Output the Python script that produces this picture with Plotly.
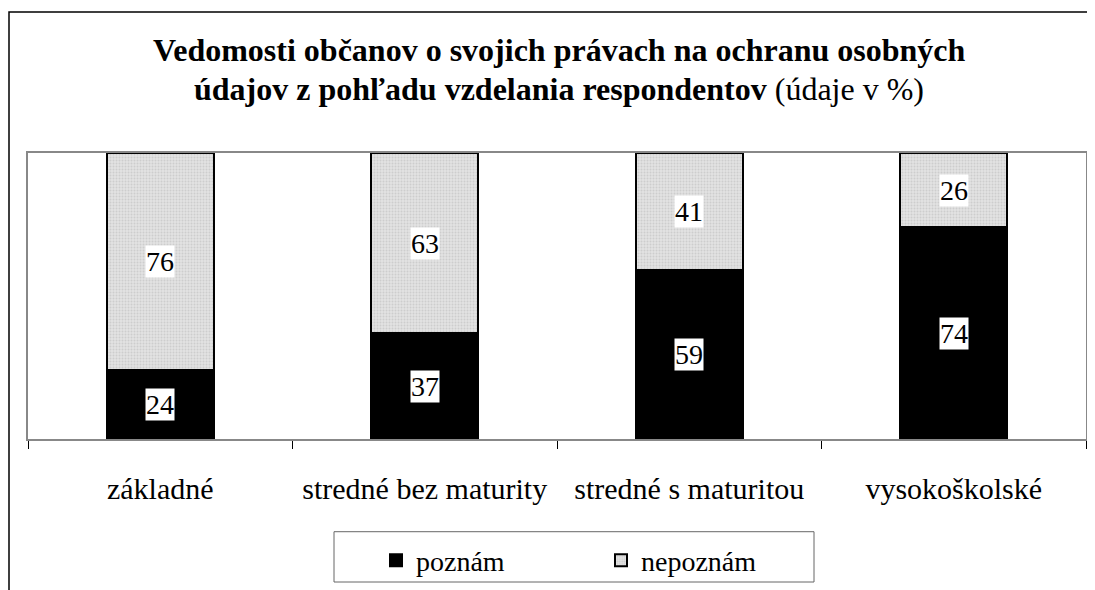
import plotly.graph_objects as go

categories = ["základné", "stredné bez maturity", "stredné s maturitou", "vysokoškolské"]
poznam = [24, 37, 59, 74]
nepoznam = [76, 63, 41, 26]
series_names = ["poznám", "nepoznám"]
title_line1 = "<b>Vedomosti občanov o svojich právach na ochranu osobných</b>"
title_line2 = "<b>údajov z pohľadu vzdelania respondentov</b> (údaje v %)"

FONT = "Liberation Serif, Times New Roman, serif"

fig = go.Figure()
fig.add_trace(go.Bar(
    x=categories, y=poznam, name=series_names[0], width=0.405,
    marker=dict(color="black", line=dict(color="black", width=2)),
))
fig.add_trace(go.Bar(
    x=categories, y=nepoznam, name=series_names[1], width=0.405,
    marker=dict(color="#d9d9d9", line=dict(color="black", width=2),
                pattern=dict(shape=".", fgcolor="#b8b8b8", bgcolor="#e2e2e2", size=3, solidity=0.35)),
))

# value labels with white boxes
for cat, a, b in zip(categories, poznam, nepoznam):
    fig.add_annotation(x=cat, y=a / 2, text=str(a), showarrow=False, bgcolor="white",
                       font=dict(family=FONT, size=28, color="black"), borderpad=0)
    fig.add_annotation(x=cat, y=a + b / 2, text=str(b), showarrow=False, bgcolor="white",
                       font=dict(family=FONT, size=28, color="black"), borderpad=0)

# title (two lines)
fig.add_annotation(xref="paper", yref="paper", x=0.502, y=1.359, yanchor="middle", showarrow=False,
                   text=title_line1, font=dict(family=FONT, size=32, color="black"))
fig.add_annotation(xref="paper", yref="paper", x=0.502, y=1.224, yanchor="middle", showarrow=False,
                   text=title_line2, font=dict(family=FONT, size=32, color="black"))

# outer chart border
fig.add_shape(type="rect", xref="paper", yref="paper",
              x0=(1 - 20) / 1058, y0=-1.0, x1=1.2, y1=(435 - 2) / 290,
              line=dict(color="black", width=1.5), layer="below")
# legend box
fig.add_shape(type="rect", xref="paper", yref="paper",
              x0=(326 - 20) / 1058, x1=(806 - 20) / 1058,
              y0=(435 - 580) / 290, y1=(435 - 529) / 290,
              line=dict(color="#666666", width=1), fillcolor="rgba(0,0,0,0)")

fig.update_layout(
    width=1095, height=590,
    margin=dict(l=20, r=17, t=145, b=155),
    barmode="stack", bargap=0,
    plot_bgcolor="white", paper_bgcolor="white",
    font=dict(family=FONT, size=30, color="black"),
    showlegend=True,
    legend=dict(orientation="h", x=(368 - 20) / 1058, y=(435 - 533) / 290, xanchor="left", yanchor="top",
                borderwidth=0, bgcolor="rgba(0,0,0,0)", font=dict(family=FONT, size=28),
                entrywidth=180, traceorder="normal"),
    xaxis=dict(type="category", tickson="boundaries", ticks="outside", ticklen=8,
               tickcolor="black", tickwidth=1, showline=True, linecolor="#888888", linewidth=2,
               mirror=True, showgrid=False, ticklabelstandoff=22,
               tickfont=dict(family=FONT, size=30)),
    yaxis=dict(range=[0, 100], showticklabels=False, ticks="", showgrid=False, zeroline=False,
               showline=True, linecolor="#888888", linewidth=2, mirror=True),
)

fig.write_html("out.html")
